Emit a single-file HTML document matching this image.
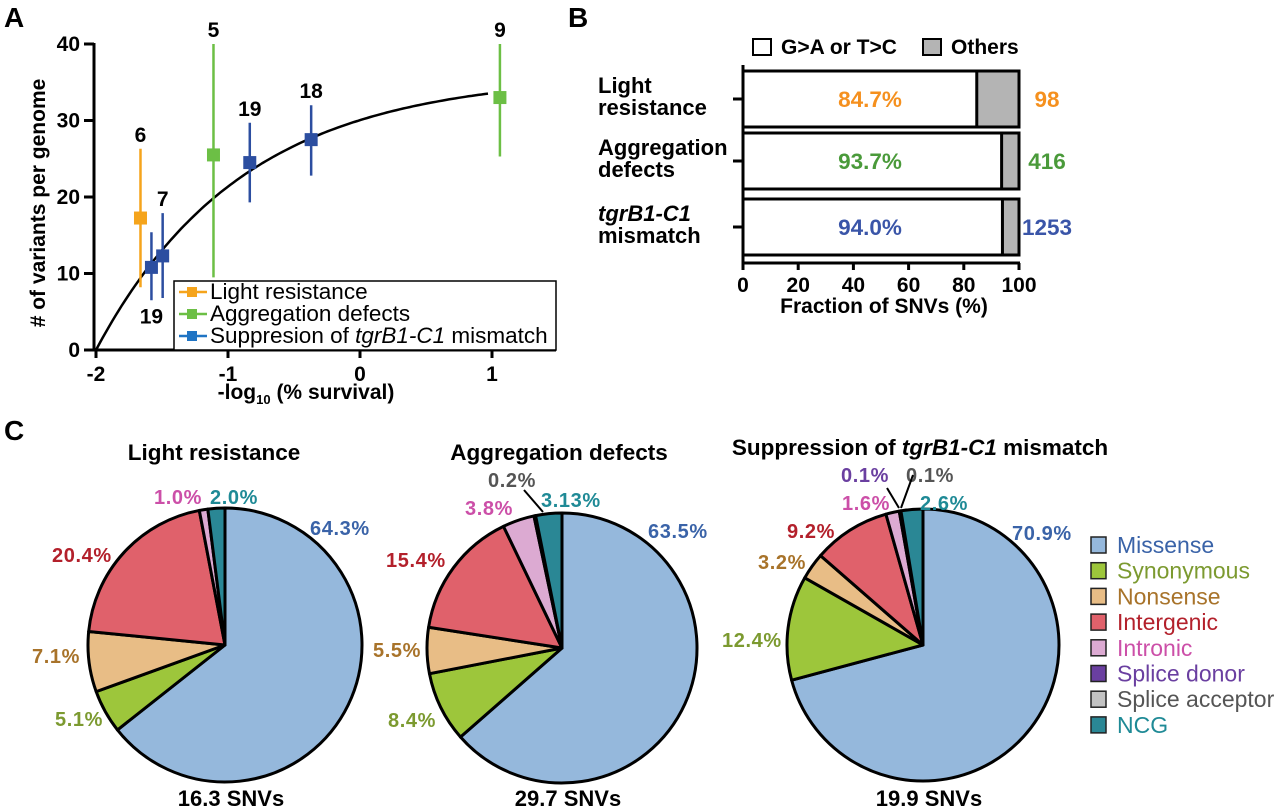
<!DOCTYPE html>
<html><head><meta charset="utf-8"><style>
html,body{margin:0;padding:0;background:#fff;}
svg{display:block;font-family:"Liberation Sans",Arial,sans-serif;}
.b{font-weight:bold;}
</style></head><body>
<svg id="fig" width="1280" height="812" viewBox="0 0 1280 812" xmlns="http://www.w3.org/2000/svg">
<g id="panelA"></g>
<g id="panelB"></g>
<g id="panelC"></g>
</svg>
<script>
// ---------- Panel A data ----------
const aSeries = ["Light resistance","Aggregation defects","Suppresion of tgrB1-C1 mismatch"];
const aX = [-1.663,-1.58,-1.495,-1.11,-0.835,-0.37,1.06];
const aY = [17.25,10.8,12.3,25.5,24.5,27.5,33];
const aLo = [8.2,6.5,6.8,9.5,19.3,22.8,25.3];
const aHi = [26.3,15.4,17.9,40,29.7,32,40];
const aGroup = [0,2,2,1,2,2,1];
const aN = ["6","19","7","5","19","18","9"];
const aNBelow = [false,true,false,false,false,false,false];
const aXTicks = [-2,-1,0,1];
const aYTicks = [0,10,20,30,40];
const fitA = 36, fitK = 0.9;
// ---------- Panel B data ----------
const bRows = [["Light","resistance"],["Aggregation","defects"],["tgrB1-C1","mismatch"]];
const bMain = [84.7,93.7,94.0];
const bCounts = ["98","416","1253"];
const bTicks = [0,20,40,60,80,100];
// ---------- Panel C data ----------
const cCats = ["Missense","Synonymous","Nonsense","Intergenic","Intronic","Splice donor","Splice acceptor","NCG"];
const cTitles = ["Light resistance","Aggregation defects","Suppression of tgrB1-C1 mismatch"];
const cTotals = ["16.3 SNVs","29.7 SNVs","19.9 SNVs"];
const pie1 = [64.3,5.1,7.1,20.4,1.0,0,0,2.0];
const pie2 = [63.5,8.4,5.5,15.4,3.8,0,0.2,3.13];
const pie3 = [70.9,12.4,3.2,9.2,1.6,0.1,0.1,2.6];
const pieLabels1 = ["64.3%","5.1%","7.1%","20.4%","1.0%","","","2.0%"];
const pieLabels2 = ["63.5%","8.4%","5.5%","15.4%","3.8%","","0.2%","3.13%"];
const pieLabels3 = ["70.9%","12.4%","3.2%","9.2%","1.6%","0.1%","0.1%","2.6%"];

const NS="http://www.w3.org/2000/svg";
function mk(tag,attrs,parent,text){const e=document.createElementNS(NS,tag);for(const k in attrs)e.setAttribute(k,attrs[k]);if(text!==undefined)e.textContent=text;parent.appendChild(e);return e;}
const gA=document.getElementById('panelA'),gB=document.getElementById('panelB'),gC=document.getElementById('panelC');
const fig=document.getElementById('fig');
let t;
t=mk('text',{x:4,y:27,'font-size':28,class:'b'},fig,'A');
t=mk('text',{x:568,y:27,'font-size':28,class:'b'},fig,'B');
t=mk('text',{x:4,y:440,'font-size':28,class:'b'},fig,'C');

// ===== Panel A =====
const ax=v=>96+(v+2)*132, ay=v=>350-v*7.65;
const aColors=["#f5a41c","#6cbf45","#2c4ea0"];
const legColors=["#f5a41c","#6cbf45","#1f74c4"];
let d="";for(let i=0;i<=120;i++){const x=-2+i*(2.97/120);const y=fitA*(1-Math.exp(-fitK*(x+2)));d+=(i?"L":"M")+ax(x).toFixed(1)+","+ay(y).toFixed(1);}
t=mk('path',{d:d,fill:'none',stroke:'#000','stroke-width':2.5},gA);
aX.forEach((x,i)=>{
 const c=aColors[aGroup[i]];
 const g=mk('g',{},gA);
 mk('line',{x1:ax(x),x2:ax(x),y1:ay(aHi[i]),y2:ay(aLo[i]),stroke:c,'stroke-width':2.5},g);
 mk('rect',{x:ax(x)-6.5,y:ay(aY[i])-6.5,width:13,height:13,fill:c},g);
 const ly=aNBelow[i]?ay(aLo[i])+23:ay(aHi[i])-7;
 const tl=mk('text',{x:ax(x),y:ly,'font-size':21,class:'b','text-anchor':'middle'},gA,aN[i]);
 
});
t=mk('line',{x1:94,y1:ay(40)-1,x2:94,y2:351,stroke:'#000','stroke-width':3},gA);
t=mk('line',{x1:93,y1:350,x2:556,y2:350,stroke:'#000','stroke-width':3},gA);
aYTicks.forEach(v=>{mk('line',{x1:84,x2:94,y1:ay(v),y2:ay(v),stroke:'#000','stroke-width':3},gA);
 t=mk('text',{x:80,y:ay(v)+7,'font-size':21,class:'b','text-anchor':'end'},gA,String(v));});
aXTicks.forEach(v=>{mk('line',{x1:ax(v),x2:ax(v),y1:350,y2:358,stroke:'#000','stroke-width':3},gA);
 t=mk('text',{x:ax(v),y:381,'font-size':21,class:'b','text-anchor':'middle'},gA,String(v));});
t=mk('text',{x:306,y:399,'font-size':21,class:'b','text-anchor':'middle'},gA);
mk('tspan',{},t,'-log');mk('tspan',{'font-size':13,dy:5},t,'10');mk('tspan',{dy:-5},t,' (% survival)');
t=mk('text',{transform:'translate(45,203) rotate(-90)','font-size':21,class:'b','text-anchor':'middle'},gA,'# of variants per genome');
const lg=mk('g',{},gA);
mk('rect',{x:174,y:281,width:382,height:69,fill:'#fff',stroke:'#000','stroke-width':1.5},lg);
aSeries.forEach((s,i)=>{
 const y=[292,314,336][i];
 const e=mk('g',{},lg);
 mk('line',{x1:179,x2:207,y1:y,y2:y,stroke:legColors[i],'stroke-width':2.5},e);
 mk('rect',{x:187,y:y-5,width:10,height:10,fill:legColors[i]},e);
 const tx=mk('text',{x:210,y:y+7,'font-size':22.5},e);
 if(i===2){mk('tspan',{},tx,'Suppresion of ');mk('tspan',{'font-style':'italic'},tx,'tgrB1-C1');mk('tspan',{},tx,' mismatch');}
 else tx.textContent=s;
});

// ===== Panel B =====
const bx=v=>743+v*2.76;
const rowTop=[71,133,199],rowH=56;
const bPctColors=["#f5901e","#4a9a3a","#3a55a8"];
rowTop.forEach((y,i)=>{
 const g=mk('g',{},gB);
 mk('rect',{x:bx(0),y:y,width:bx(100)-bx(0),height:rowH,fill:'#fff',stroke:'#000','stroke-width':3},g);
 mk('rect',{x:bx(bMain[i]),y:y,width:bx(100)-bx(bMain[i]),height:rowH,fill:'#b4b4b4',stroke:'#000','stroke-width':3},g);
 const tp=mk('text',{x:870,y:y+rowH/2+8,'font-size':22.5,class:'b','text-anchor':'middle',fill:bPctColors[i]},gB,bMain[i].toFixed(1)+'%');
 
 const tc=mk('text',{x:1047,y:y+rowH/2+8,'font-size':22.5,class:'b','text-anchor':'middle',fill:bPctColors[i]},gB,bCounts[i]);
 
 mk('line',{x1:733,x2:743,y1:y+rowH/2,y2:y+rowH/2,stroke:'#000','stroke-width':3},gB);
 const rl=mk('text',{x:598,y:y+22,'font-size':22,class:'b'},gB);
 
 mk('tspan',{x:598,'font-style':i===2?'italic':'normal'},rl,bRows[i][0]);
 mk('tspan',{x:598,dy:22},rl,bRows[i][1]);
});
t=mk('line',{x1:743,y1:65,x2:743,y2:264,stroke:'#000','stroke-width':3},gB);
t=mk('line',{x1:742,y1:263,x2:1020,y2:263,stroke:'#000','stroke-width':3},gB);
bTicks.forEach(v=>{mk('line',{x1:bx(v),x2:bx(v),y1:263,y2:270,stroke:'#000','stroke-width':3},gB);
 t=mk('text',{x:bx(v),y:292,'font-size':21,class:'b','text-anchor':'middle'},gB,String(v));});
t=mk('text',{x:884,y:313,'font-size':21,class:'b','text-anchor':'middle'},gB,'Fraction of SNVs (%)');
const bl=mk('g',{},gB);
mk('rect',{x:753,y:39,width:18,height:16,fill:'#fff',stroke:'#000','stroke-width':2},bl);
mk('text',{x:781,y:54,'font-size':21,class:'b'},bl,'G>A or T>C');
mk('rect',{x:923,y:39,width:18,height:16,fill:'#b4b4b4',stroke:'#000','stroke-width':2},bl);
mk('text',{x:951,y:54,'font-size':21,class:'b'},bl,'Others');

// ===== Panel C =====
const fillC=["#95b8dc","#9dc63b","#e8bd86","#e0616b","#dcaad2","#6a3fa0","#c2c2c2","#2a8795"];
const txtC=["#3a63a8","#7c9a30","#a8732a","#b3202b","#cc4fa8","#6a3fa0","#555555","#1f8a96"];
const pies=[pie1,pie2,pie3], pieLbl=[pieLabels1,pieLabels2,pieLabels3];
const centers=[[225,645,137],[562,648,135],[923,645,136]];
const titleX=[214,559,920], titleY=[460,460,455];
const lblPos=[
 [[310,535],[55,726],[32,663],[52,562],[154,504],null,null,[210,504]],
 [[648,538],[388,727],[373,657],[386,567],[465,515],null,[488,487],[541,507]],
 [[1012,540],[722,647],[758,569],[787,538],[842,510],[841,482],[906,482],[920,510]]
];
pies.forEach((vals,p)=>{
 const [cx,cy,r]=centers[p];
 const g=mk('g',{},gC);
 const tot=vals.reduce((a,b)=>a+b,0);
 let a0=-Math.PI/2;
 vals.forEach((v,i)=>{
  if(v<=0)return;
  const a1=a0+v/tot*2*Math.PI;
  const x0=cx+r*Math.cos(a0),y0=cy+r*Math.sin(a0),x1=cx+r*Math.cos(a1),y1=cy+r*Math.sin(a1);
  const large=(a1-a0)>Math.PI?1:0;
  const s=mk('path',{d:`M${cx},${cy}L${x0.toFixed(2)},${y0.toFixed(2)}A${r},${r} 0 ${large} 1 ${x1.toFixed(2)},${y1.toFixed(2)}Z`,fill:fillC[i],stroke:'#000','stroke-width':3,'stroke-linejoin':'round'},g);
  
  
  a0=a1;
 });
 pieLbl[p].forEach((l,i)=>{
  if(!l||!lblPos[p][i])return;
  const tl=mk('text',{x:lblPos[p][i][0],y:lblPos[p][i][1],'font-size':20,'letter-spacing':0.6,class:'b',fill:txtC[i]},gC,l);
  
 });
 const tt=mk('text',{x:titleX[p],y:titleY[p],'font-size':22.5,class:'b','text-anchor':'middle'},gC);
 
 if(p===2){mk('tspan',{},tt,'Suppression of ');mk('tspan',{'font-style':'italic'},tt,'tgrB1-C1');mk('tspan',{},tt,' mismatch');}
 else tt.textContent=cTitles[p];
 const ts=mk('text',{x:cx+6,y:806,'font-size':22,class:'b','text-anchor':'middle'},gC,cTotals[p]);
 
});
[[524,490,543,512],[887,488,899,508],[913,475,901,508]].forEach(l=>{
 const ln=mk('line',{x1:l[0],y1:l[1],x2:l[2],y2:l[3],stroke:'#000','stroke-width':2},gC);
 
});
const cl=mk('g',{},gC);
cCats.forEach((c,i)=>{
 const y=545+i*25.7;
 const e=mk('g',{},cl);
 mk('rect',{x:1091,y:y-8,width:15,height:16,fill:fillC[i],stroke:'#222','stroke-width':1.5},e);
 mk('text',{x:1117,y:y+8,'font-size':23,fill:txtC[i]},e,c);
});
</script>
</body></html>
